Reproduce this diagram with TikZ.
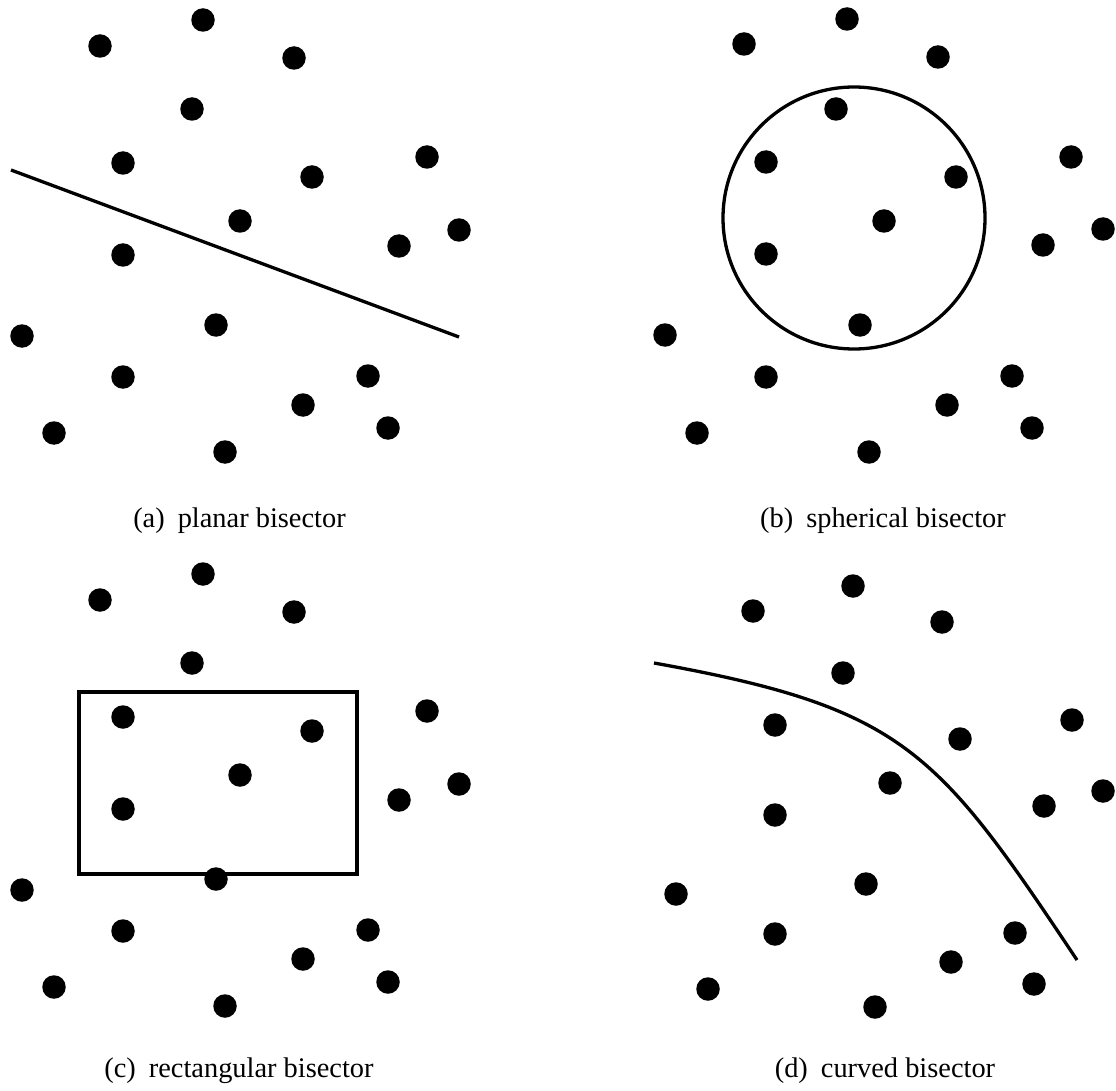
\documentclass[tikz,border=0pt]{standalone}
\usepackage{fontspec}
\setmainfont{Liberation Serif}
\begin{document}
\begin{tikzpicture}[x=1pt,y=-1pt,
  dot/.style={circle,fill=black,draw=none,inner sep=0pt,minimum size=23.5pt},
  bis/.style={line width=3.3pt,black},
  captext/.style={anchor=base,inner sep=0pt,font=\fontsize{28.4}{34}\selectfont}]
\useasboundingbox (0,0) rectangle (1116,1091);
% panel (a)
\foreach \x/\y [count=\i] in {203/20,100/46,294/58,192/109,123/163,427/157,312/177,240/221,459/230,123/255,399/246,22/336,216/325,123/377,368/376,303/405,54/433,388/428,225/452}
  \node[dot] (a\i) at (\x,\y) {};
\draw[bis] (11,170) -- (459,337);
\node[captext] (capa) at (239.5,527) {(a)\hspace{13pt}planar bisector};
% panel (b)
\foreach \x/\y [count=\i] in {847/19,744/44,938/57,836/109,766/162,1071/157,956/177,884/221,1103/229,766/254,1043/245,665/335,860/325,766/377,1012/376,947/405,697/433,1032/428,869/452}
  \node[dot] (b\i) at (\x,\y) {};
\draw[bis] (854,218) circle[radius=131];
\node[captext] (capb) at (883,527) {(b)\hspace{13pt}spherical bisector};
% panel (c)
\foreach \x/\y [count=\i] in {203/20,100/46,294/58,192/109,123/163,427/157,312/177,240/221,459/230,123/255,399/246,22/336,216/325,123/377,368/376,303/405,54/433,388/428,225/452}
  \node[dot] (c\i) at (\x,\y+554) {};
\draw[bis] (79,692) rectangle (357,874);
\node[captext] (capc) at (239,1077) {(c)\hspace{13pt}rectangular bisector};
% panel (d)
\foreach \x/\y [count=\i] in {853/586,753/611,942/622,843/673,775/725,1072/720,960/739,890/783,1103/791,775/815,1044/806,676/894,866/884,775/934,1015/933,951/962,708/989,1034/984,875/1007}
  \node[dot] (d\i) at (\x,\y) {};
\draw[bis] (654,663) .. controls (904,708) and (937,750) .. (1077,960);
\node[captext] (capd) at (885,1077) {(d)\hspace{13pt}curved bisector};
\end{tikzpicture}
\end{document}
